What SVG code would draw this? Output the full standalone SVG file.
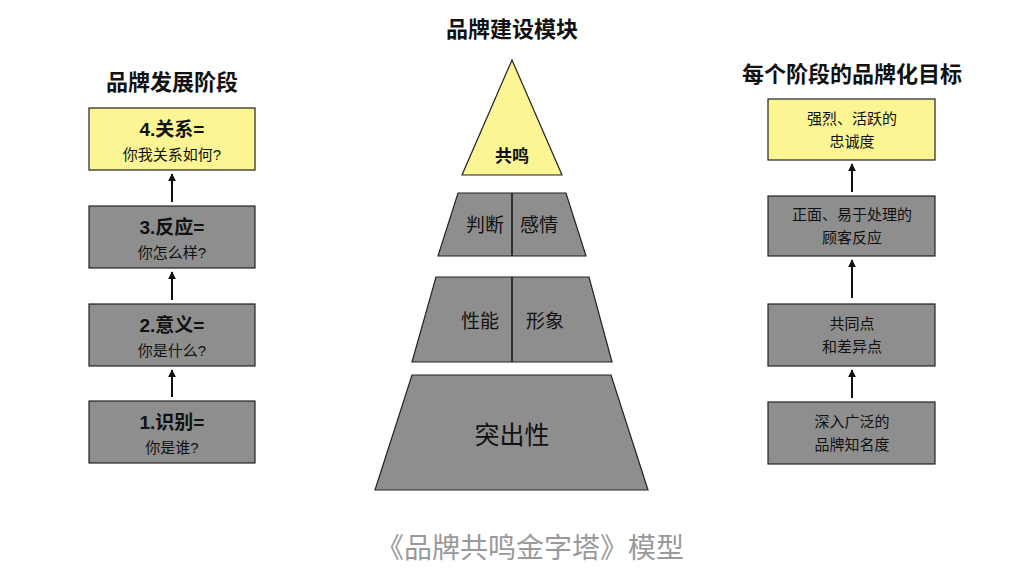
<svg xmlns="http://www.w3.org/2000/svg" width="1024" height="575" viewBox="0 0 1024 575">
<style>
text{font-family:"Liberation Sans","Noto Sans CJK SC",sans-serif;text-anchor:middle;fill:#111}
.g{fill:#8e8e8e;stroke:#222;stroke-width:1.2}
.y{fill:#fbf594;stroke:#222;stroke-width:1.2}
.h{font-size:22px;font-weight:bold}
.b{font-size:19px;font-weight:bold}
.s{font-size:15px}
.p{font-size:19px}
.c{stroke:#111;stroke-width:2;marker-end:url(#a)}
</style>
<defs><marker id="a" viewBox="0 0 10 10" refX="9" refY="5" markerWidth="4" markerHeight="4" orient="auto"><path d="M0,0L10,5L0,10z" fill="#111"/></marker></defs>
<rect width="1024" height="575" fill="#fff"/>
<text class="h" x="172" y="90">品牌发展阶段</text>
<text class="h" x="512" y="37">品牌建设模块</text>
<text class="h" x="852" y="82">每个阶段的品牌化目标</text>
<g id="l4"><rect class="y" x="89" y="108" width="166" height="62"/><text class="b" x="172" y="136">4.关系=</text><text class="s" x="172" y="160">你我关系如何?</text></g>
<g id="l3"><rect class="g" x="89" y="206" width="166" height="62"/><text class="b" x="172" y="234">3.反应=</text><text class="s" x="172" y="258">你怎么样?</text></g>
<g id="l2"><rect class="g" x="89" y="304" width="166" height="62"/><text class="b" x="172" y="332">2.意义=</text><text class="s" x="172" y="356">你是什么?</text></g>
<g id="l1"><rect class="g" x="89" y="401" width="166" height="62"/><text class="b" x="172" y="429">1.识别=</text><text class="s" x="172" y="453">你是谁?</text></g>
<g id="p1"><polygon class="y" points="512,60 562,175 462,175"/><text style="font-weight:bold;font-size:17px" x="512" y="162">共鸣</text></g>
<g id="p2"><polygon class="g" points="458,193 566,193 586,256 438,256"/><line x1="512" y1="193" x2="512" y2="256" stroke="#111" stroke-width="1.5"/><text class="p" x="485" y="232">判断</text><text class="p" x="539" y="232">感情</text></g>
<g id="p3"><polygon class="g" points="436,277 589,277 612,362 412,362"/><line x1="512" y1="277" x2="512" y2="362" stroke="#111" stroke-width="1.5"/><text class="p" x="480" y="328">性能</text><text class="p" x="545" y="328">形象</text></g>
<g id="p4"><polygon class="g" points="412,375 611,375 648,490 375,490"/><text x="512" y="444" style="font-size:25px">突出性</text></g>
<g id="r4"><rect class="y" x="768" y="99" width="167" height="61"/><text class="s" x="852" y="124">强烈、活跃的</text><text class="s" x="852" y="147">忠诚度</text></g>
<g id="r3"><rect class="g" x="768" y="196" width="167" height="60"/><text class="s" x="852" y="220">正面、易于处理的</text><text class="s" x="852" y="243">顾客反应</text></g>
<g id="r2"><rect class="g" x="768" y="304" width="167" height="62"/><text class="s" x="852" y="329">共同点</text><text class="s" x="852" y="352">和差异点</text></g>
<g id="r1"><rect class="g" x="768" y="402" width="167" height="62"/><text class="s" x="852" y="427">深入广泛的</text><text class="s" x="852" y="450">品牌知名度</text></g>
<g id="connectors">
<line class="c" x1="172" y1="202" x2="172" y2="174"/>
<line class="c" x1="172" y1="300" x2="172" y2="272"/>
<line class="c" x1="172" y1="397" x2="172" y2="370"/>
<line class="c" x1="852" y1="192" x2="852" y2="164"/>
<line class="c" x1="852" y1="298" x2="852" y2="260"/>
<line class="c" x1="852" y1="398" x2="852" y2="370"/>
</g>
<text x="530" y="558" style="font-size:28px;fill:#999">《品牌共鸣金字塔》模型</text>
</svg>
